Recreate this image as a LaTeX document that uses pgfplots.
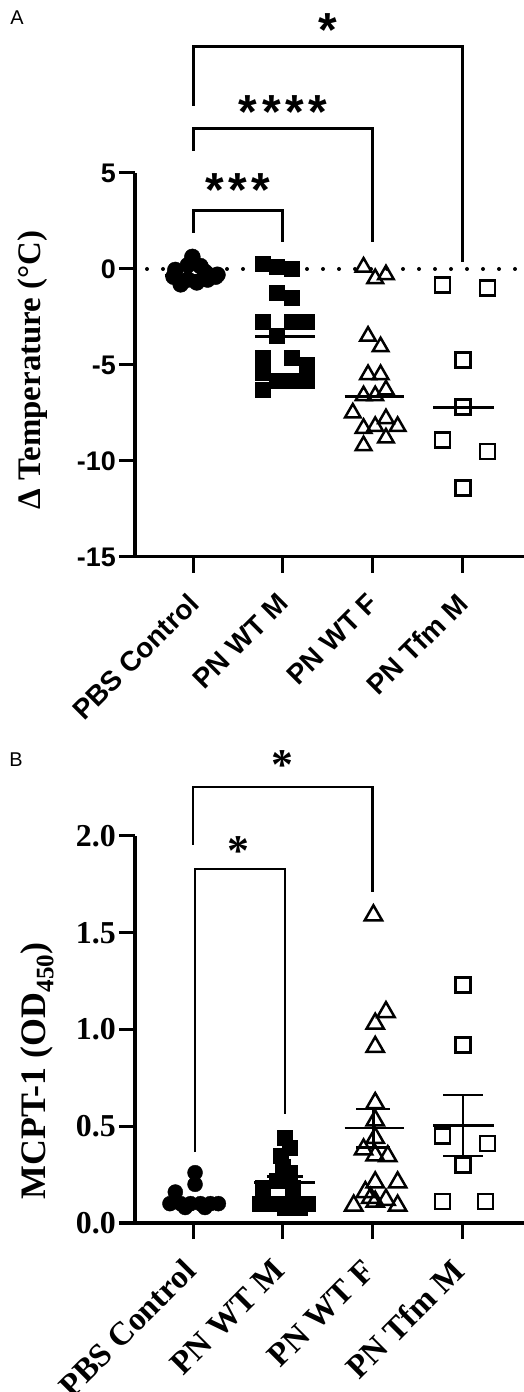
\documentclass[border=0pt]{standalone}
\usepackage{fontspec}
\setmainfont{Liberation Serif}
\newfontfamily\arial{Liberation Sans}
\usepackage{pgfplots}
\pgfplotsset{compat=1.18}

\pgfplotsset{
  dotplot/.style={
    scale only axis, width=389bp,
    axis x line=bottom, axis y line=left,
    axis line style={-, line width=3bp},
    xmin=-0.65, xmax=3.69,
    xtick={0,1,2,3},
    tick align=outside,
    major tick length=16bp,
    every tick/.style={line width=3bp, black},
    clip=false,
    yticklabel style={inner sep=3bp},
  },
}

\begin{document}
\begin{tikzpicture}
\useasboundingbox (0,0) rectangle (524bp,1392bp);

\node[font=\arial\fontsize{20}{22}\selectfont] at (17bp,1374bp) {A};
\node[font=\arial\fontsize{20}{22}\selectfont] at (16bp,632bp) {B};

% ---------------- panel A
\begin{axis}[dotplot,
    at={(135bp,835bp)}, anchor=south west, height=384bp,
    ymin=-15, ymax=5,
    ytick={-15,-10,-5,0,5}, yticklabels={-15,-10,-5,0,5},
    yticklabel style={font=\arial\bfseries\fontsize{27}{29}\selectfont},
    xticklabels={PBS Control, PN WT M, PN WT F, PN Tfm M},
    xticklabel style={yshift=-24bp, xshift=2bp, rotate=45, anchor=east, inner sep=2bp,
      font=\arial\bfseries\fontsize{28}{30}\selectfont},
    ylabel={Δ Temperature (°C)},
    ylabel style={at={(axis description cs:-0.262,0.487)}, anchor=center,
      font=\bfseries\fontsize{33}{35}\selectfont},
  ]
  % dotted zero line
  \addplot[line width=4bp, line cap=round, dash pattern=on 0bp off 16bp, dash phase=4bp]
    coordinates {(-0.65,0) (3.69,0)};

  % medians
  \addplot[line width=3bp] coordinates {(-0.32,-0.35) (0.32,-0.35)};

  \addplot[only marks, mark=*, mark size=8bp, black] coordinates {
    (-0.01,0.63) (-0.06,0.2) (0.08,0.15) (-0.22,-0.4) (-0.14,-0.8)
    (-0.06,-0.55) (0.04,-0.7) (0.16,-0.55) (0.25,-0.4) (0.27,-0.3)
    (-0.2,-0.05) (0.13,-0.15)
  };
  \addplot[only marks, mark=square*, mark size=7.5bp, black] coordinates {
    (0.77,0.3) (0.93,0.1) (1.1,0.0) (0.93,-1.25) (1.1,-1.5)
    (0.77,-2.75) (0.93,-3.45) (1.1,-2.75) (1.27,-2.75)
    (0.77,-4.6) (1.1,-4.6) (1.27,-5.0) (0.77,-5.4)
    (0.93,-5.8) (1.1,-5.8) (1.27,-5.8) (0.77,-6.3)
  };
  \addplot[only marks, mark=triangle, mark size=9bp, black, mark options={line width=2.5bp}] coordinates {
    (1.9,0.1) (2.03,-0.5) (2.15,-0.3) (1.95,-3.5) (2.09,-4.05)
    (1.95,-5.5) (2.09,-5.5) (2.15,-6.3) (1.9,-6.6) (2.03,-6.6)
    (1.78,-7.5) (2.15,-7.8) (1.9,-8.3) (2.03,-8.2) (2.28,-8.2)
    (2.15,-8.8) (1.9,-9.2)
  };
  \addplot[only marks, mark=square, mark size=7.5bp, black, mark options={line width=2.5bp}] coordinates {
    (2.78,-0.83) (3.28,-1.0) (3.01,-4.74) (3.01,-7.19) (2.78,-8.9)
    (3.28,-9.5) (3.01,-11.4)
  };

  \addplot[line width=3bp] coordinates {(0.69,-3.5) (1.36,-3.5)};
  \addplot[line width=3bp] coordinates {(1.69,-6.65) (2.35,-6.65)};
  \addplot[line width=3bp] coordinates {(2.68,-7.2) (3.35,-7.2)};

  % significance brackets
  \addplot[line width=3bp] coordinates {(0,1.875) (0,3.07) (1,3.07) (1,1.4)};
  \addplot[line width=3bp] coordinates {(0,6.15) (0,7.34) (2,7.34) (2,1.4)};
  \addplot[line width=3bp] coordinates {(0,8.5) (0,11.6) (3,11.6) (3,0.36)};
  \node[anchor=north, inner sep=0, font=\arial\bfseries\fontsize{48}{50}\selectfont]
    at (axis cs:0.5,5.0) {*\kern4.5bp*\kern4.5bp*};
  \node[anchor=north, inner sep=0, font=\arial\bfseries\fontsize{48}{50}\selectfont]
    at (axis cs:1.0,9.05) {*\kern4.5bp*\kern4.5bp*\kern4.5bp*};
  \node[anchor=north, inner sep=0, font=\arial\bfseries\fontsize{48}{50}\selectfont]
    at (axis cs:1.5,13.3) {*};
\end{axis}

% ---------------- panel B
\begin{axis}[dotplot,
    at={(135bp,169bp)}, anchor=south west, height=387bp,
    ymin=0, ymax=2,
    ytick={0,0.5,1,1.5,2}, yticklabels={0.0,0.5,1.0,1.5,2.0},
    yticklabel style={font=\bfseries\fontsize{32}{34}\selectfont},
    xticklabels={PBS Control, PN WT M, PN WT F, PN Tfm M},
    xticklabel style={yshift=-25bp, xshift=-2bp, rotate=45, anchor=east, inner sep=2bp,
      font=\bfseries\fontsize{33}{35}\selectfont},
    ylabel={MCPT-1 (OD\textsubscript{450})},
    ylabel style={at={(axis description cs:-0.252,0.393)}, anchor=center,
      font=\bfseries\fontsize{36}{38}\selectfont},
  ]
  \addplot[only marks, mark=*, mark size=7.5bp, black] coordinates {
    (0.02,0.26) (0.02,0.2) (-0.2,0.16) (-0.26,0.10) (-0.14,0.10)
    (-0.03,0.10) (0.08,0.10) (0.19,0.10) (0.28,0.10) (-0.09,0.08)
    (0.13,0.08)
  };
  \addplot[only marks, mark=square*, mark size=7.5bp, black] coordinates {
    (1.02,0.44) (1.08,0.39) (0.97,0.35) (1.0,0.29) (1.08,0.26)
    (0.93,0.22) (0.78,0.18) (1.11,0.18) (0.74,0.10) (0.86,0.10)
    (1.0,0.10) (1.16,0.10) (1.28,0.10) (1.02,0.08) (1.19,0.08)
  };
  \addplot[only marks, mark=triangle, mark size=10bp, black, mark options={line width=2.5bp}] coordinates {
    (2.01,1.59) (2.15,1.09) (2.03,1.03) (2.03,0.91) (2.03,0.62)
    (2.03,0.53) (2.03,0.44) (1.9,0.38) (2.03,0.35) (2.17,0.345)
    (2.03,0.21) (2.28,0.21) (1.92,0.16) (1.79,0.09) (2.03,0.11)
    (2.15,0.12) (2.28,0.09) (1.98,0.13)
  };
  \addplot[only marks, mark=square, mark size=7.5bp, black, mark options={line width=2.5bp}] coordinates {
    (3.01,1.23) (3.01,0.92) (2.78,0.45) (3.28,0.41) (3.01,0.30)
    (2.78,0.11) (3.26,0.11)
  };

  % mean and SEM
  \addplot[line width=2.3bp] coordinates {(-0.32,0.125) (0.32,0.125)};
  \addplot[line width=2.3bp] coordinates {(0.68,0.21) (1.36,0.21)};
  \addplot[line width=2.3bp] coordinates {(0.82,0.24) (1.22,0.24)};
  \addplot[line width=2.3bp] coordinates {(1.69,0.49) (2.35,0.49)};
  \addplot[line width=2.3bp] coordinates {(1.82,0.59) (2.2,0.59)};
  \addplot[line width=2.3bp] coordinates {(1.82,0.39) (2.2,0.39)};
  \addplot[line width=2.3bp] coordinates {(2.01,0.39) (2.01,0.59)};
  \addplot[line width=2.3bp] coordinates {(2.68,0.504) (3.35,0.504)};
  \addplot[line width=2.3bp] coordinates {(2.79,0.663) (3.23,0.663)};
  \addplot[line width=2.3bp] coordinates {(2.79,0.345) (3.23,0.345)};
  \addplot[line width=2.3bp] coordinates {(3.01,0.345) (3.01,0.663)};

  % significance brackets
  \addplot[line width=2.3bp] coordinates {(0,1.954) (0,2.253) (2,2.253) (2,1.711)};
  \addplot[line width=2.3bp] coordinates {(0.02,0.366) (0.02,1.830) (1.02,1.830) (1.02,0.562)};
  \node[anchor=north, inner sep=0, font=\bfseries\fontsize{44}{46}\selectfont]
    at (axis cs:1.0,2.44) {*};
  \node[anchor=north, inner sep=0, font=\bfseries\fontsize{44}{46}\selectfont]
    at (axis cs:0.5,2.0) {*};
\end{axis}
\end{tikzpicture}
\end{document}
